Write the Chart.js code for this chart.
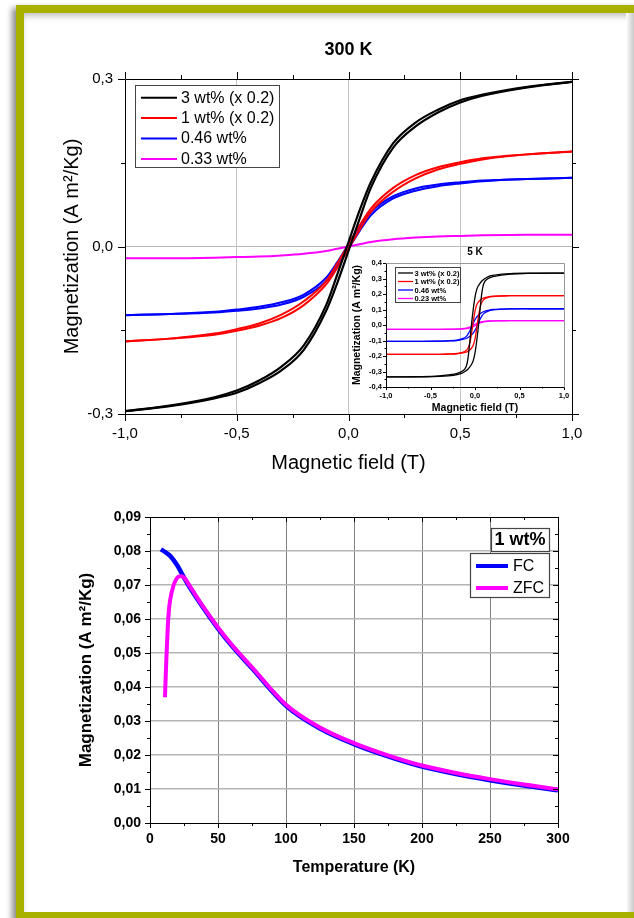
<!DOCTYPE html>
<html>
<head>
<meta charset="utf-8">
<script src="https://cdn.jsdelivr.net/npm/chart.js@4.4.1/dist/chart.umd.min.js"></script>
<style>
  html, body { margin: 0; padding: 0; background: #fff; overflow: hidden; }
  #page { position: relative; width: 634px; height: 918px; overflow: hidden; background: #fff; }
  #frame {
    position: absolute; left: 16px; top: 5px; width: 640px; height: 899px;
    border-top: 8px solid #a8b000; border-left: 8px solid #a8b000; border-bottom: 8px solid #a8b000;
    box-shadow: -4px 3px 6px rgba(0,0,0,0.45), inset 0 5px 6px -2px rgba(0,0,0,0.25);
  }
  #edge {
    position: absolute; left: 626px; top: 13px; width: 8px; height: 899px;
    background: linear-gradient(to right, #ffffff, #c8c8c8);
  }
  canvas { position: absolute; }
</style>
</head>
<body>
<div id="page">
<div id="frame"></div>
<div id="edge"></div>
<canvas id="loops300" width="634" height="480" style="left:0;top:0;width:634px;height:480px"></canvas>
<canvas id="loops5" width="240" height="180" style="left:340px;top:240px;width:240px;height:180px"></canvas>
<canvas id="fczfc" width="634" height="420" style="left:0;top:480px;width:634px;height:420px"></canvas>
</div>
<script>
// ---------- 300 K hysteresis (main top chart) ----------
const field300 = [-1, -0.8, -0.6, -0.5, -0.4, -0.3, -0.2, -0.1, -0.05, 0, 0.05, 0.1, 0.2, 0.3, 0.4, 0.5, 0.6, 0.8, 1];
const wt3Down300 = [-0.295, -0.285, -0.27, -0.258, -0.24, -0.215, -0.177, -0.105, -0.05, 0.008, 0.065, 0.115, 0.185, 0.222, 0.245, 0.262, 0.272, 0.286, 0.295];
const wt3Up300   = [-0.295, -0.286, -0.272, -0.262, -0.245, -0.222, -0.185, -0.115, -0.065, -0.008, 0.05, 0.105, 0.177, 0.215, 0.24, 0.258, 0.27, 0.285, 0.295];
const wt1Down300 = [-0.17, -0.165, -0.156, -0.148, -0.138, -0.122, -0.098, -0.062, -0.03, 0.004, 0.038, 0.068, 0.105, 0.128, 0.142, 0.151, 0.158, 0.165, 0.17];
const wt1Up300   = [-0.17, -0.165, -0.158, -0.151, -0.142, -0.128, -0.105, -0.068, -0.038, -0.004, 0.03, 0.062, 0.098, 0.122, 0.138, 0.148, 0.156, 0.165, 0.17];
const wt046Down300 = [-0.123, -0.121, -0.117, -0.113, -0.108, -0.1, -0.086, -0.056, -0.028, 0.004, 0.035, 0.062, 0.09, 0.104, 0.111, 0.115, 0.118, 0.121, 0.123];
const wt046Up300   = [-0.123, -0.121, -0.118, -0.115, -0.111, -0.104, -0.09, -0.062, -0.035, -0.004, 0.028, 0.056, 0.086, 0.1, 0.108, 0.113, 0.117, 0.121, 0.123];
const wt033_300 = [-0.021, -0.021, -0.02, -0.019, -0.018, -0.016, -0.013, -0.008, -0.004, 0, 0.004, 0.008, 0.013, 0.016, 0.018, 0.019, 0.02, 0.021, 0.021];
const fieldTicks = [-1, -0.5, 0, 0.5, 1];
const fieldTickLabels = ['-1,0', '-0,5', '0,0', '0,5', '1,0'];
const magTicks300 = [-0.3, 0, 0.3];
const magTickLabels300 = ['-0,3', '0,0', '0,3'];

// ---------- 5 K hysteresis (inset) ----------
const field5 = [-1, -0.6, -0.4, -0.3, -0.2, -0.15, -0.1, -0.08, -0.06, -0.04, -0.02, 0, 0.02, 0.04, 0.06, 0.08, 0.1, 0.15, 0.2, 0.3, 0.4, 0.6, 1];
const wt3Down5 = [-0.335, -0.333, -0.328, -0.322, -0.312, -0.3, -0.27, -0.22, -0.12, 0, 0.1, 0.18, 0.23, 0.255, 0.272, 0.285, 0.295, 0.312, 0.32, 0.328, 0.332, 0.334, 0.335];
const wt3Up5   = [-0.335, -0.334, -0.332, -0.328, -0.32, -0.312, -0.295, -0.285, -0.272, -0.255, -0.23, -0.18, -0.1, 0, 0.12, 0.22, 0.27, 0.3, 0.312, 0.322, 0.328, 0.333, 0.335];
const wt1Down5 = [-0.19, -0.19, -0.189, -0.187, -0.183, -0.178, -0.165, -0.15, -0.12, -0.06, 0.02, 0.09, 0.13, 0.15, 0.162, 0.17, 0.175, 0.182, 0.186, 0.188, 0.19, 0.19, 0.19];
const wt1Up5   = [-0.19, -0.19, -0.19, -0.188, -0.186, -0.182, -0.175, -0.17, -0.162, -0.15, -0.13, -0.09, -0.02, 0.06, 0.12, 0.15, 0.165, 0.178, 0.183, 0.187, 0.189, 0.19, 0.19];
const wt046Down5 = [-0.105, -0.105, -0.104, -0.102, -0.097, -0.09, -0.075, -0.06, -0.04, -0.015, 0.012, 0.035, 0.052, 0.065, 0.074, 0.081, 0.087, 0.095, 0.1, 0.103, 0.104, 0.105, 0.105];
const wt046Up5   = [-0.105, -0.105, -0.104, -0.103, -0.1, -0.095, -0.087, -0.081, -0.074, -0.065, -0.052, -0.035, -0.012, 0.015, 0.04, 0.06, 0.075, 0.09, 0.097, 0.102, 0.104, 0.105, 0.105];
const wt023Down5 = [-0.028, -0.028, -0.028, -0.027, -0.026, -0.024, -0.02, -0.017, -0.013, -0.008, -0.002, 0.005, 0.011, 0.016, 0.019, 0.022, 0.024, 0.026, 0.027, 0.028, 0.028, 0.028, 0.028];
const wt023Up5   = [-0.028, -0.028, -0.028, -0.028, -0.027, -0.026, -0.024, -0.022, -0.019, -0.016, -0.011, -0.005, 0.002, 0.008, 0.013, 0.017, 0.02, 0.024, 0.026, 0.027, 0.028, 0.028, 0.028];
const magTicks5 = [-0.4, -0.3, -0.2, -0.1, 0, 0.1, 0.2, 0.3, 0.4];
const magTickLabels5 = ['-0,4', '-0,3', '-0,2', '-0,1', '0,0', '0,1', '0,2', '0,3', '0,4'];

// ---------- FC / ZFC (bottom chart) ----------
const fcTemp = [8, 10, 15, 20, 25, 30, 40, 50, 60, 75, 100, 125, 150, 175, 200, 225, 250, 275, 300];
const fcMag  = [0.0805, 0.08, 0.0785, 0.0758, 0.0722, 0.0688, 0.0628, 0.0572, 0.0522, 0.0455, 0.0345, 0.0278, 0.0232, 0.0196, 0.0166, 0.0144, 0.0126, 0.011, 0.0096];
const zfcTemp = [11, 12, 13, 14, 15, 17, 19, 21, 23, 25, 30, 40, 50, 60, 75, 100, 125, 150, 175, 200, 225, 250, 275, 300];
const zfcMag  = [0.037, 0.048, 0.057, 0.063, 0.066, 0.0695, 0.0715, 0.0725, 0.0726, 0.0722, 0.0692, 0.0631, 0.0575, 0.0525, 0.0458, 0.0348, 0.0281, 0.0235, 0.0199, 0.0169, 0.0147, 0.0129, 0.0113, 0.0099];
const tempTicks = [0, 50, 100, 150, 200, 250, 300];
const tempTickLabels = ['0', '50', '100', '150', '200', '250', '300'];
const magTicksFc = [0, 0.01, 0.02, 0.03, 0.04, 0.05, 0.06, 0.07, 0.08, 0.09];
const magTickLabelsFc = ['0,00', '0,01', '0,02', '0,03', '0,04', '0,05', '0,06', '0,07', '0,08', '0,09'];

const FONT = "'Liberation Sans', Arial, sans-serif";

function pts(xs, ys) { return xs.map((x, i) => ({ x: x, y: ys[i] })); }
function line(label, xs, ys, color, width, order) {
  return { label: label, data: pts(xs, ys), borderColor: color, backgroundColor: color,
           borderWidth: width, showLine: true, pointRadius: 0, fill: false,
           cubicInterpolationMode: 'monotone', order: order || 0 };
}
function fixedTicks(values) { return scale => { scale.ticks = values.map(v => ({ value: v })); }; }
function innerGrid(color) {
  return ctx => {
    const s = ctx.scale, v = ctx.tick ? ctx.tick.value : null;
    return (v === s.min || v === s.max) ? 'rgba(0,0,0,0)' : color;
  };
}

// box round the plot area with major/minor tick marks (+1 outward, -1 inward)
const axisFrame = {
  id: 'axisFrame',
  afterDraw(chart, args, o) {
    const { ctx, chartArea: a } = chart;
    const x = chart.scales.x, y = chart.scales.y;
    const steps = (min, max, st) => { const n = Math.round((max - min) / st), out = []; for (let i = 0; i <= n; i++) out.push(min + i * st); return out; };
    const isMajor = (v, m) => Math.abs(v / m - Math.round(v / m)) < 1e-6;
    ctx.save();
    ctx.lineWidth = o.width;
    ctx.strokeStyle = o.color;
    ctx.beginPath();
    steps(x.min, x.max, o.xMinor).forEach(v => {
      const px = Math.round(x.getPixelForValue(v)) + 0.5;
      const len = isMajor(v, o.xMajor) ? o.majorLen : o.minorLen;
      if (o.bottom) { ctx.moveTo(px, a.bottom); ctx.lineTo(px, a.bottom + o.bottom * len); }
      if (o.top) { ctx.moveTo(px, a.top); ctx.lineTo(px, a.top - o.top * len); }
    });
    steps(y.min, y.max, o.yMinor).forEach(v => {
      const py = Math.round(y.getPixelForValue(v)) + 0.5;
      const len = isMajor(v, o.yMajor) ? o.majorLen : o.minorLen;
      if (o.left) { ctx.moveTo(a.left, py); ctx.lineTo(a.left - o.left * len, py); }
      if (o.right) { ctx.moveTo(a.right, py); ctx.lineTo(a.right + o.right * len, py); }
    });
    ctx.stroke();
    const L = Math.round(a.left) + 0.5, R = Math.round(a.right) + 0.5, T = Math.round(a.top) + 0.5, B = Math.round(a.bottom) + 0.5;
    ctx.beginPath();
    ctx.moveTo(L, T); ctx.lineTo(L, B); ctx.lineTo(R, B);
    ctx.stroke();
    ctx.strokeStyle = o.farColor || o.color;
    ctx.beginPath();
    ctx.moveTo(L, T); ctx.lineTo(R, T); ctx.lineTo(R, B);
    ctx.stroke();
    ctx.restore();
  }
};

// legend box inside the plot, one row per distinct dataset label
const boxLegend = {
  id: 'boxLegend',
  afterDraw(chart, args, o) {
    const ctx = chart.ctx;
    ctx.save();
    ctx.lineWidth = o.borderWidth;
    ctx.strokeStyle = o.borderColor;
    if (o.header) {
      const h = o.header;
      ctx.fillStyle = '#fff';
      ctx.fillRect(h.x, h.y, h.w, h.h);
      ctx.strokeRect(h.x + 0.5, h.y + 0.5, h.w, h.h);
      ctx.font = h.font;
      ctx.fillStyle = '#000';
      ctx.textAlign = 'center';
      ctx.textBaseline = 'middle';
      ctx.fillText(h.text, h.x + h.w / 2, h.y + h.h / 2 + 1);
    }
    const seen = [], items = [];
    chart.data.datasets.forEach(d => { if (!seen.includes(d.label)) { seen.push(d.label); items.push(d); } });
    ctx.fillStyle = '#fff';
    ctx.fillRect(o.x, o.y, o.w, o.h);
    ctx.strokeStyle = o.borderColor;
    ctx.strokeRect(o.x + 0.5, o.y + 0.5, o.w, o.h);
    ctx.font = o.font;
    ctx.textAlign = 'left';
    ctx.textBaseline = 'middle';
    items.forEach((d, i) => {
      const yy = o.y + o.row0 + i * o.rowGap;
      ctx.strokeStyle = d.borderColor;
      ctx.lineWidth = o.lineWidth;
      ctx.beginPath();
      ctx.moveTo(o.lineX0, yy); ctx.lineTo(o.lineX1, yy);
      ctx.stroke();
      ctx.fillStyle = '#000';
      ctx.fillText(d.label, o.textX, yy + 0.5);
    });
    ctx.restore();
  }
};

Chart.defaults.font.family = FONT;
Chart.defaults.color = '#000';

// ---------- top chart ----------
new Chart(document.getElementById('loops300'), {
  type: 'scatter',
  data: {
    datasets: [
      line('3 wt% (x 0.2)', field300, wt3Down300, '#000000', 2.2),
      line('3 wt% (x 0.2)', field300, wt3Up300, '#000000', 2.2),
      line('1 wt% (x 0.2)', field300, wt1Down300, '#ff0000', 2),
      line('1 wt% (x 0.2)', field300, wt1Up300, '#ff0000', 2),
      line('0.46 wt%', field300, wt046Down300, '#0000ff', 2),
      line('0.46 wt%', field300, wt046Up300, '#0000ff', 2),
      line('0.33 wt%', field300, wt033_300, '#ff00ff', 2)
    ]
  },
  options: {
    responsive: false,
    animation: false,
    layout: { padding: { left: 0, right: 62, top: 0, bottom: 0 } },
    plugins: {
      legend: { display: false },
      tooltip: { enabled: false },
      title: { display: true, text: '300 K', fullSize: false, color: '#000',
               font: { size: 18, weight: 'bold' }, padding: { top: 39, bottom: 18.4 } },
      axisFrame: { color: '#000', width: 1, xMajor: 0.5, xMinor: 0.25, yMajor: 0.3, yMinor: 0.15,
                   majorLen: 7, minorLen: 4, bottom: 1, top: 1, left: 1, right: 1 },
      boxLegend: { x: 135, y: 85, w: 144, h: 82, row0: 12.7, rowGap: 20.4, lineX0: 141, lineX1: 177,
                   textX: 181, font: '16px ' + FONT, lineWidth: 2, borderColor: '#444', borderWidth: 1 }
    },
    scales: {
      x: {
        type: 'linear', min: -1, max: 1,
        afterBuildTicks: fixedTicks(fieldTicks),
        afterFit: s => { s.height = 66; },
        border: { display: false },
        grid: { drawTicks: false, color: innerGrid('#c4c4c4') },
        ticks: { padding: 11, font: { size: 15 }, callback: (v, i) => fieldTickLabels[i] },
        title: { display: true, text: 'Magnetic field (T)', font: { size: 20 }, padding: { top: 0, bottom: 5 } }
      },
      y: {
        type: 'linear', min: -0.3, max: 0.3,
        afterBuildTicks: fixedTicks(magTicks300),
        afterFit: s => { s.width = 125; },
        border: { display: false },
        grid: { drawTicks: false, color: innerGrid('#b8b8b8') },
        ticks: { padding: 12, font: { size: 15 }, callback: (v, i) => magTickLabels300[i] },
        title: { display: true, text: 'Magnetization (A m²/Kg)', font: { size: 20 }, padding: { top: 60, bottom: 0 } }
      }
    }
  },
  plugins: [axisFrame, boxLegend]
});

// ---------- inset 5 K ----------
new Chart(document.getElementById('loops5'), {
  type: 'scatter',
  data: {
    datasets: [
      line('3 wt% (x 0.2)', field5, wt3Down5, '#000000', 1.3),
      line('3 wt% (x 0.2)', field5, wt3Up5, '#000000', 1.3),
      line('1 wt% (x 0.2)', field5, wt1Down5, '#ff0000', 1.3),
      line('1 wt% (x 0.2)', field5, wt1Up5, '#ff0000', 1.3),
      line('0.46 wt%', field5, wt046Down5, '#0000ff', 1.3),
      line('0.46 wt%', field5, wt046Up5, '#0000ff', 1.3),
      line('0.23 wt%', field5, wt023Down5, '#ff00ff', 1.3),
      line('0.23 wt%', field5, wt023Up5, '#ff00ff', 1.3)
    ]
  },
  options: {
    responsive: false,
    animation: false,
    layout: { padding: { left: 0, right: 16, top: 0, bottom: 0 } },
    plugins: {
      legend: { display: false },
      tooltip: { enabled: false },
      title: { display: true, text: '5 K', fullSize: false, color: '#000',
               font: { size: 10, weight: 'bold' }, padding: { top: 6, bottom: 5 } },
      axisFrame: { color: '#000', farColor: '#999', width: 1, xMajor: 0.5, xMinor: 0.25, yMajor: 0.1, yMinor: 0.05,
                   majorLen: 3, minorLen: 1.5, bottom: 1, top: 0, left: 1, right: 0 },
      boxLegend: { x: 55, y: 27, w: 65, h: 35, row0: 6, rowGap: 8.5, lineX0: 58, lineX1: 73,
                   textX: 74.5, font: 'bold 7.5px ' + FONT, lineWidth: 1.3, borderColor: '#444', borderWidth: 1 }
    },
    scales: {
      x: {
        type: 'linear', min: -1, max: 1,
        afterBuildTicks: fixedTicks(fieldTicks),
        afterFit: s => { s.height = 33; },
        border: { display: false },
        grid: { display: false, drawTicks: false },
        ticks: { padding: 4, font: { size: 7.5, weight: 'bold' }, callback: (v, i) => fieldTickLabels[i] },
        title: { display: true, text: 'Magnetic field (T)', font: { size: 10.5, weight: 'bold' }, padding: { top: 0, bottom: 5.7 } }
      },
      y: {
        type: 'linear', min: -0.4, max: 0.4,
        afterBuildTicks: fixedTicks(magTicks5),
        afterFit: s => { s.width = 46; },
        border: { display: false },
        grid: { display: false, drawTicks: false },
        ticks: { padding: 4, font: { size: 7.5, weight: 'bold' }, callback: (v, i) => magTickLabels5[i] },
        title: { display: true, text: 'Magnetization (A m²/Kg)', font: { size: 10.5, weight: 'bold' }, padding: { top: 10.7, bottom: 0 } }
      }
    }
  },
  plugins: [axisFrame, boxLegend]
});

// ---------- bottom chart ----------
new Chart(document.getElementById('fczfc'), {
  type: 'scatter',
  data: {
    datasets: [
      line('FC', fcTemp, fcMag, '#0000ff', 4.5, 1),
      line('ZFC', zfcTemp, zfcMag, '#ff00ff', 4, 0)
    ]
  },
  options: {
    responsive: false,
    animation: false,
    layout: { padding: { left: 0, right: 76, top: 37, bottom: 0 } },
    plugins: {
      legend: { display: false },
      tooltip: { enabled: false },
      axisFrame: { color: '#000', width: 1, xMajor: 50, xMinor: 25, yMajor: 0.01, yMinor: 0.005,
                   majorLen: 5, minorLen: 3, bottom: 1, top: -1, left: 1, right: -1 },
      boxLegend: { header: { x: 491, y: 48, w: 58, h: 23, text: '1 wt%', font: 'bold 18px ' + FONT },
                   x: 470, y: 73, w: 79, h: 44, row0: 13, rowGap: 22, lineX0: 476, lineX1: 508,
                   textX: 513, font: '16px ' + FONT, lineWidth: 4, borderColor: '#444', borderWidth: 1.2 }
    },
    scales: {
      x: {
        type: 'linear', min: 0, max: 300,
        afterBuildTicks: fixedTicks(tempTicks),
        afterFit: s => { s.height = 77; },
        border: { display: false },
        grid: { drawTicks: false, color: innerGrid('#808080') },
        ticks: { padding: 8, font: { size: 14, weight: 'bold' }, callback: (v, i) => tempTickLabels[i] },
        title: { display: true, text: 'Temperature (K)', font: { size: 16, weight: 'bold' }, padding: { top: 0, bottom: 22.4 } }
      },
      y: {
        type: 'linear', min: 0, max: 0.09,
        afterBuildTicks: fixedTicks(magTicksFc),
        afterFit: s => { s.width = 150; },
        border: { display: false },
        grid: { drawTicks: false, lineWidth: 1.5, color: innerGrid('#b4b4b4') },
        ticks: { padding: 9, font: { size: 14, weight: 'bold' }, callback: (v, i) => magTickLabelsFc[i] },
        title: { display: true, text: 'Magnetization (A m²/Kg)', font: { size: 17, weight: 'bold' }, padding: { top: 75.8, bottom: 0 } }
      }
    }
  },
  plugins: [axisFrame, boxLegend]
});
</script>
</body>
</html>
